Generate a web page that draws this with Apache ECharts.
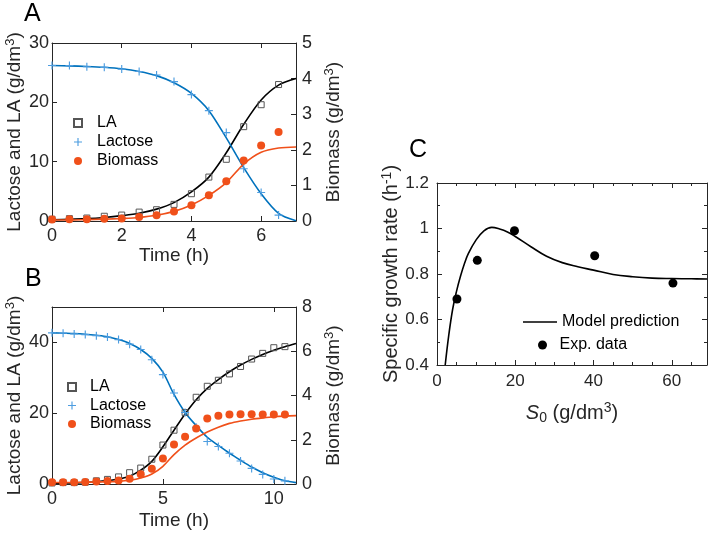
<!DOCTYPE html>
<html>
<head>
<meta charset="utf-8">
<script src="https://cdn.jsdelivr.net/npm/echarts@6/dist/echarts.min.js"></script>
<style>
  html, body { margin: 0; background: #fff; }
  #chartMain { width: 709px; height: 534px; }
</style>
</head>
<body>
<div id="chartMain"></div>
<script>
// ---- panel A data ----
const tA = [0, 0.5, 1, 1.5, 2, 2.5, 3, 3.5, 4, 4.5, 5, 5.5, 6, 6.5];
const laA = [0.3, 0.4, 0.5, 0.8, 1.0, 1.5, 1.9, 2.8, 4.6, 7.4, 10.4, 15.9, 19.6, 23.0];
const lactoseA = [26.2, 26.2, 26.0, 25.9, 25.6, 25.2, 24.6, 23.5, 21.3, 18.6, 14.9, 8.8, 4.8, 1.0];
const biomassA = [0.04, 0.05, 0.05, 0.06, 0.07, 0.11, 0.16, 0.27, 0.44, 0.72, 1.12, 1.70, 2.12, 2.50];

const tModelA = [0, 0.5, 1, 1.5, 2, 2.5, 3, 3.5, 4, 4.5, 5, 5.5, 6, 6.5, 7];
const laModelA = [0.2, 0.3, 0.4, 0.6, 0.9, 1.3, 2.0, 3.1, 4.9, 7.4, 11.5, 16.3, 20.4, 22.9, 24.0];
const lactoseModelA = [26.2, 26.15, 26.05, 25.9, 25.65, 25.2, 24.5, 23.3, 21.5, 18.6, 14.0, 9.0, 4.6, 1.3, 0.05];
const biomassModelA = [0.03, 0.03, 0.04, 0.05, 0.07, 0.1, 0.16, 0.27, 0.45, 0.72, 1.08, 1.6, 1.93, 2.05, 2.08];

// ---- panel B data ----
const tB = [0, 0.5, 1, 1.5, 2, 2.5, 3, 3.5, 4, 4.5, 5, 5.5, 6, 6.5, 7, 7.5, 8, 8.5, 9, 9.5, 10, 10.5];
const laB = [0.3, 0.4, 0.4, 0.5, 0.9, 1.3, 2.0, 3.2, 4.5, 7.0, 11.0, 15.2, 20.2, 24.5, 27.6, 29.3, 31.1, 33.2, 35.3, 36.9, 38.5, 38.8];
const lactoseB = [42.7, 42.6, 42.4, 42.2, 41.9, 41.5, 40.8, 39.5, 38.0, 35.1, 30.9, 25.7, 20.2, 16.0, 12.0, 10.6, 8.7, 6.5, 4.4, 2.7, 1.4, 0.9];
const biomassB = [0.08, 0.08, 0.08, 0.09, 0.11, 0.13, 0.16, 0.24, 0.44, 0.69, 1.15, 1.79, 2.13, 2.51, 2.96, 3.08, 3.14, 3.15, 3.15, 3.14, 3.14, 3.14];

const tModelB = [0, 0.5, 1, 1.5, 2, 2.5, 3, 3.5, 4, 4.5, 5, 5.5, 6, 6.5, 7, 7.5, 8, 8.5, 9, 9.5, 10, 10.5, 11];
const laModelB = [0.2, 0.25, 0.3, 0.45, 0.65, 0.95, 1.4, 2.2, 3.9, 6.4, 10.5, 15.2, 19.8, 23.8, 27.0, 29.5, 31.7, 33.6, 35.2, 36.6, 37.8, 38.8, 39.7];
const lactoseModelB = [42.7, 42.6, 42.5, 42.3, 42.0, 41.6, 40.8, 39.7, 38.0, 35.5, 31.6, 25.3, 20.2, 16.5, 13.2, 10.9, 8.7, 6.7, 4.8, 3.2, 1.9, 0.9, 0.4];
const biomassModelB = [0.07, 0.07, 0.07, 0.08, 0.09, 0.1, 0.12, 0.17, 0.27, 0.45, 0.8, 1.33, 1.76, 2.08, 2.35, 2.57, 2.74, 2.85, 2.93, 2.99, 3.04, 3.07, 3.09];

// ---- panel C data ----
const s0Exp = [5.1, 10.3, 19.8, 40.3, 60.3];
const muExp = [0.69, 0.86, 0.99, 0.88, 0.76];
const s0Model = [2.1, 3, 4, 5, 6, 7, 8, 10, 12, 14, 16, 18, 20, 24, 28, 32, 36, 40, 45, 50, 55, 60, 65, 69];
const muModel = [0.40, 0.53, 0.645, 0.725, 0.79, 0.845, 0.89, 0.95, 0.99, 1.005, 0.998, 0.985, 0.965, 0.92, 0.878, 0.85, 0.832, 0.817, 0.798, 0.788, 0.782, 0.780, 0.779, 0.778];

const FONT = 'Liberation Sans, Arial, sans-serif';
const AXIS_COLOR = '#262626';
const BLUE = '#0072BD';
const BLUE_MARK = '#4d9de0';
const ORANGE = '#F0501A';
const PLUS = 'path://M3,0h1v3h3v1h-3v3h-1v-3h-3v-1h3z';

const pairs = (xs, ys) => xs.map((x, i) => [x, ys[i]]);

const richName = (size) => ({
    a: { fontSize: size, fontFamily: FONT, color: AXIS_COLOR },
    it: { fontSize: size, fontFamily: FONT, color: AXIS_COLOR, fontStyle: 'italic' },
    sup: { fontSize: Math.round(size * 0.68), fontFamily: FONT, color: AXIS_COLOR, padding: [0, 0, 9, 0] },
    sub: { fontSize: Math.round(size * 0.68), fontFamily: FONT, color: AXIS_COLOR, padding: [10, 0, 0, 0] }
});

function boxAxis(opts) {
    return Object.assign({
        type: 'value',
        axisLine: { show: true, onZero: false, lineStyle: { color: AXIS_COLOR, width: 1 } },
        axisTick: { show: true, inside: true, length: 5, lineStyle: { color: AXIS_COLOR } },
        splitLine: { show: false },
        axisLabel: { show: false }
    }, opts);
}

function tickLabel(size, margin, showMax) {
    return { show: true, fontSize: size, fontFamily: FONT, color: AXIS_COLOR, margin: margin, showMaxLabel: showMax };
}

const legendText = (pad) => ({ fontSize: 16, fontFamily: FONT, color: '#000', padding: [0, 0, 0, pad] });

let myChart = echarts.init(document.getElementById('chartMain'));

myChart.setOption({
    backgroundColor: '#fff',
    animation: false,
    title: [
        { text: 'A', left: 24, top: 2, padding: 0, textStyle: { fontSize: 25, fontWeight: 'normal', fontFamily: FONT, color: '#000' } },
        { text: 'B', left: 25, top: 267, padding: 0, textStyle: { fontSize: 25, fontWeight: 'normal', fontFamily: FONT, color: '#000' } },
        { text: 'C', left: 409, top: 138, padding: 0, textStyle: { fontSize: 25, fontWeight: 'normal', fontFamily: FONT, color: '#000' } }
    ],
    grid: [
        { left: 52, top: 43, width: 244, height: 178, outerBoundsMode: 'none' },
        { left: 52, top: 307, width: 244, height: 177, outerBoundsMode: 'none' },
        { left: 437, top: 183, width: 270, height: 182, outerBoundsMode: 'none' }
    ],
    legend: [
        {
            data: ['LA', 'Lactose', 'Biomass'], orient: 'vertical', left: 73, top: 115, padding: 0,
            itemWidth: 8, itemHeight: 8, itemGap: 3, textStyle: legendText(10)
        },
        {
            data: ['LA', 'Lactose', 'Biomass'], orient: 'vertical', left: 67, top: 379, padding: 0,
            itemWidth: 8, itemHeight: 8, itemGap: 2.5, textStyle: legendText(9)
        },
        {
            data: [{ name: 'Model prediction', icon: 'rect', itemStyle: { color: '#000' } }],
            left: 523, top: 314, padding: 0, symbolKeepAspect: false,
            itemWidth: 34, itemHeight: 1.6, textStyle: legendText(0)
        },
        {
            data: ['Exp. data'], left: 538, top: 337, padding: 0,
            itemWidth: 10, itemHeight: 9, textStyle: legendText(7)
        }
    ],
    xAxis: [
        boxAxis({ gridIndex: 0, position: 'bottom', min: 0, max: 7, interval: 2,
            axisLabel: tickLabel(18, 6, false),
            name: 'Time (h)', nameLocation: 'middle', nameGap: 24,
            nameTextStyle: { fontSize: 19, fontFamily: FONT, color: AXIS_COLOR } }),
        boxAxis({ gridIndex: 0, position: 'top', min: 0, max: 7, interval: 2 }),
        boxAxis({ gridIndex: 1, position: 'bottom', min: 0, max: 11, interval: 5,
            axisLabel: tickLabel(18, 6, false),
            name: 'Time (h)', nameLocation: 'middle', nameGap: 27,
            nameTextStyle: { fontSize: 19, fontFamily: FONT, color: AXIS_COLOR } }),
        boxAxis({ gridIndex: 1, position: 'top', min: 0, max: 11, interval: 5 }),
        boxAxis({ gridIndex: 2, position: 'bottom', min: 0, max: 69, interval: 20,
            minorTick: { show: true, splitNumber: 4, length: 3, lineStyle: { color: AXIS_COLOR } },
            axisLabel: tickLabel(17, 8, false),
            name: '{it|S}{sub|0}{a| (g/dm}{sup|3}{a|)}', nameLocation: 'middle', nameGap: 36,
            nameTextStyle: { rich: richName(20) } }),
        boxAxis({ gridIndex: 2, position: 'top', min: 0, max: 69, interval: 20,
            minorTick: { show: true, splitNumber: 4, length: 3, lineStyle: { color: AXIS_COLOR } } })
    ],
    yAxis: [
        boxAxis({ gridIndex: 0, position: 'left', min: 0, max: 30, interval: 10,
            axisLabel: tickLabel(18, 3, true),
            name: '{a|Lactose and LA (g/dm}{sup|3}{a|)}', nameLocation: 'middle', nameGap: 26, nameRotate: 90,
            nameTextStyle: { rich: richName(19) } }),
        boxAxis({ gridIndex: 0, position: 'right', min: 0, max: 5, interval: 1,
            axisLabel: tickLabel(18, 6, true),
            name: '{a|Biomass (g/dm}{sup|3}{a|)}', nameLocation: 'middle', nameGap: 27, nameRotate: 90,
            nameTextStyle: { rich: richName(19) } }),
        boxAxis({ gridIndex: 1, position: 'left', min: 0, max: 50, interval: 20,
            axisLabel: tickLabel(18, 3, false),
            name: '{a|Lactose and LA (g/dm}{sup|3}{a|)}', nameLocation: 'middle', nameGap: 26, nameRotate: 90,
            nameTextStyle: { rich: richName(19) } }),
        boxAxis({ gridIndex: 1, position: 'right', min: 0, max: 8, interval: 2,
            axisLabel: tickLabel(18, 6, true),
            name: '{a|Biomass (g/dm}{sup|3}{a|)}', nameLocation: 'middle', nameGap: 27, nameRotate: 90,
            nameTextStyle: { rich: richName(19) } }),
        boxAxis({ gridIndex: 2, position: 'left', min: 0.4, max: 1.2, interval: 0.2,
            minorTick: { show: true, splitNumber: 2, length: 3, lineStyle: { color: AXIS_COLOR } },
            axisLabel: tickLabel(17, 8, true),
            name: '{a|Specific growth rate (h}{sup|-1}{a|)}', nameLocation: 'middle', nameGap: 34, nameRotate: 90,
            nameTextStyle: { rich: richName(20) } }),
        boxAxis({ gridIndex: 2, position: 'right', min: 0.4, max: 1.2, interval: 0.2,
            minorTick: { show: true, splitNumber: 2, length: 3, lineStyle: { color: AXIS_COLOR } } })
    ],
    series: [
        // A - model curves
        { type: 'line', name: 'LA model A', xAxisIndex: 0, yAxisIndex: 0, data: pairs(tModelA, laModelA),
          smooth: 0.3, symbol: 'none', lineStyle: { color: '#000', width: 1.6 }, z: 2 },
        { type: 'line', name: 'Lactose model A', xAxisIndex: 0, yAxisIndex: 0, data: pairs(tModelA, lactoseModelA),
          smooth: 0.3, symbol: 'none', lineStyle: { color: BLUE, width: 1.6 }, z: 2 },
        { type: 'line', name: 'Biomass model A', xAxisIndex: 0, yAxisIndex: 1, data: pairs(tModelA, biomassModelA),
          smooth: 0.3, symbol: 'none', lineStyle: { color: ORANGE, width: 1.6 }, z: 2 },
        // A - measurements
        { type: 'scatter', name: 'LA', xAxisIndex: 0, yAxisIndex: 0, data: pairs(tA, laA),
          symbol: 'rect', symbolSize: 6, itemStyle: { color: 'rgba(255,255,255,0)', borderColor: '#555', borderWidth: 1, opacity: 1 }, z: 3 },
        { type: 'scatter', name: 'Lactose', xAxisIndex: 0, yAxisIndex: 0, data: pairs(tA, lactoseA),
          symbol: PLUS, symbolSize: 8, itemStyle: { color: BLUE_MARK, opacity: 1 }, z: 3 },
        { type: 'scatter', name: 'Biomass', xAxisIndex: 0, yAxisIndex: 1, data: pairs(tA, biomassA),
          symbol: 'circle', symbolSize: 8, itemStyle: { color: ORANGE, opacity: 1 }, z: 3 },
        // B - model curves
        { type: 'line', name: 'LA model B', xAxisIndex: 2, yAxisIndex: 2, data: pairs(tModelB, laModelB),
          smooth: 0.3, symbol: 'none', lineStyle: { color: '#000', width: 1.6 }, z: 2 },
        { type: 'line', name: 'Lactose model B', xAxisIndex: 2, yAxisIndex: 2, data: pairs(tModelB, lactoseModelB),
          smooth: 0.3, symbol: 'none', lineStyle: { color: BLUE, width: 1.6 }, z: 2 },
        { type: 'line', name: 'Biomass model B', xAxisIndex: 2, yAxisIndex: 3, data: pairs(tModelB, biomassModelB),
          smooth: 0.3, symbol: 'none', lineStyle: { color: ORANGE, width: 1.6 }, z: 2 },
        // B - measurements
        { type: 'scatter', name: 'LA', xAxisIndex: 2, yAxisIndex: 2, data: pairs(tB, laB),
          symbol: 'rect', symbolSize: 6, itemStyle: { color: 'rgba(255,255,255,0)', borderColor: '#555', borderWidth: 1, opacity: 1 }, z: 3 },
        { type: 'scatter', name: 'Lactose', xAxisIndex: 2, yAxisIndex: 2, data: pairs(tB, lactoseB),
          symbol: PLUS, symbolSize: 8, itemStyle: { color: BLUE_MARK, opacity: 1 }, z: 3 },
        { type: 'scatter', name: 'Biomass', xAxisIndex: 2, yAxisIndex: 3, data: pairs(tB, biomassB),
          symbol: 'circle', symbolSize: 8, itemStyle: { color: ORANGE, opacity: 1 }, z: 3 },
        // C
        { type: 'line', name: 'Model prediction', xAxisIndex: 4, yAxisIndex: 4, data: pairs(s0Model, muModel),
          smooth: 0.4, symbol: 'none', clip: true, lineStyle: { color: '#000', width: 1.6 }, itemStyle: { color: '#000' }, z: 2 },
        { type: 'scatter', name: 'Exp. data', xAxisIndex: 4, yAxisIndex: 4, data: pairs(s0Exp, muExp),
          symbol: 'circle', symbolSize: 9, itemStyle: { color: '#000', opacity: 1 }, z: 3 }
    ]
});
</script>
</body>
</html>
